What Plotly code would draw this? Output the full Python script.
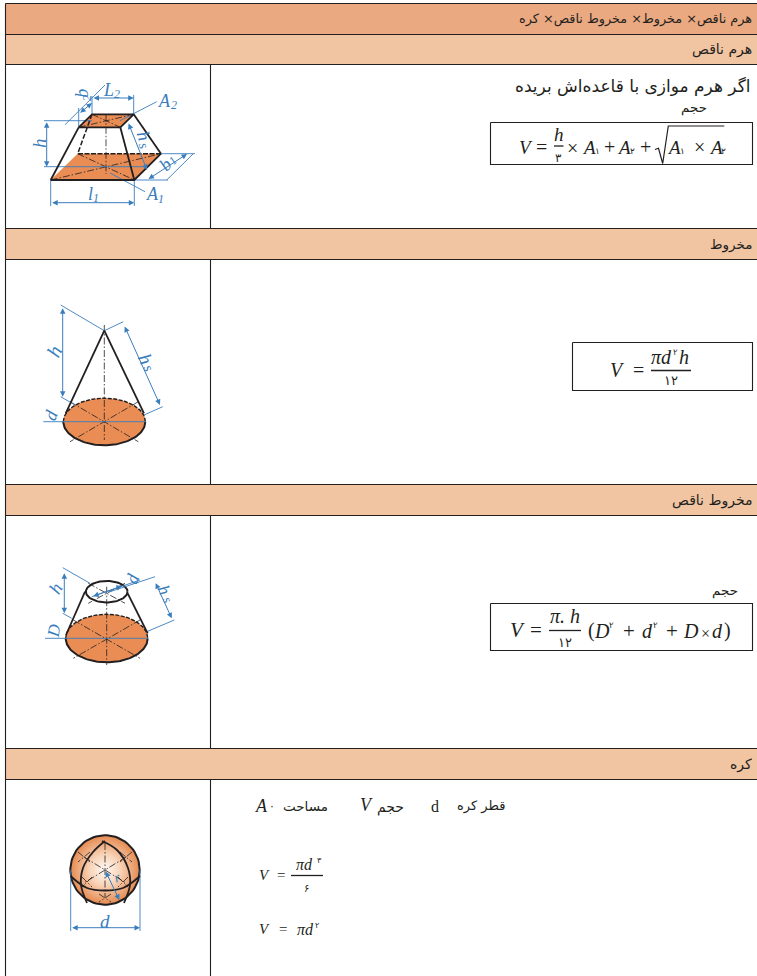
import numpy as np
import plotly.graph_objects as go

INK = "#231F20"
BLUE = "#3A7DBD"
ORANGE = "#E98D55"
HEAD_DARK = "#EBA981"
HEAD_LIGHT = "#F1C4A2"

FA = "DejaVu Sans"
SERIF = "Liberation Serif"
LABEL = "Liberation Sans Narrow"

# جدول
TABLE_LEFT = 5.5
TABLE_RIGHT = 757
TABLE_SPLIT = 210.5
ROW_LINES = [3.5, 34.5, 64.5, 228.5, 259.5, 484.5, 515.5, 748.5, 779.5]
BAND_TOPS = [3.5, 34.5, 228.5, 484.5, 748.5]
BAND_BOTTOMS = [34.5, 64.5, 259.5, 515.5, 779.5]
BAND_COLORS = [HEAD_DARK, HEAD_LIGHT, HEAD_LIGHT, HEAD_LIGHT, HEAD_LIGHT]
BAND_TITLES = ["هرم ناقص× مخروط× مخروط ناقص× کره", "هرم ناقص", "مخروط", "مخروط ناقص", "کره"]
BAND_SIZES = [12.8, 14, 13.5, 14, 14]
BAND_TEXT_Y = [19, 49, 244, 500, 764]
SPLIT_SPANS = [(64.5, 228.5), (259.5, 484.5), (515.5, 748.5), (779.5, 976)]

# متن فارسی (x راست، y، متن، اندازه)
FA_TEXT = [
    (752, 86, "اگر هرم موازی با قاعده‌اش بریده", 17),
    (708, 107, "حجم", 13.5),
    (739, 590, "حجم", 13.5),
    (506, 806, "قطر کره", 13),
    (405, 807, "حجم", 14),
    (329, 806, "مساحت", 13.5),
]

# فرمول‌ها (x وسط، y، متن، اندازه، ایتالیک)
MATH_TEXT = [
    # هرم ناقص
    (526, 147, "V", 19, True), (541.5, 147, "=", 20, False), (558.5, 134, "h", 19, True),
    (572.5, 148, "×", 20, False), (589, 147, "A", 19, True), (609, 147, "+", 20, False),
    (624, 147, "A", 19, True), (645, 147, "+", 20, False), (674, 147, "A", 19, True),
    (699.5, 147, "×", 20, False), (715.5, 147, "A", 19, True),
    # مخروط
    (617, 370, "V", 20, True), (638, 370, "=", 20, False), (661.5, 357, "πd", 20, True), (684, 357, "h", 20, True),
    # مخروط ناقص
    (517, 630, "V", 21, True), (536, 630, "=", 21, False), (565, 616, "π. h", 20, True),
    (591, 630, "(", 20, False), (602, 631, "D", 20, True), (629, 631, "+", 21, False), (647, 631, "d", 20, True),
    (672, 631, "+", 21, False), (691, 631, "D", 20, True), (705, 633, "×", 16, False),
    (717, 631, "d", 20, True), (727, 630, ")", 20, False),
    # کره
    (435, 806, "d", 16, False), (366, 805, "V", 18, True), (261, 806, "A", 18, True),
    (264, 875, "V", 15, True), (281, 875, "=", 15, False), (304.5, 864, "πd", 16, True),
    (264, 929, "V", 15, True), (283, 929, "=", 15, False), (305, 929, "πd", 16, True),
]

# رقم‌های فارسی کوچک
DIGIT_TEXT = [
    (558.5, 158, "۳", 12), (597, 151, "۱", 9), (632.5, 151, "۲", 9), (682.5, 151, "۱", 9), (723, 151, "۲", 9),
    (675.5, 352, "۲", 8.5), (671, 380, "۱۲", 13),
    (565, 642, "۱۲", 13), (611.5, 624.5, "۲", 8.5), (655, 624.5, "۲", 8.5),
    (272, 806, "۰", 11), (319.5, 860.5, "۳", 8), (306, 888, "۶", 10), (316.5, 925.5, "۲", 8),
]

FRACTION_BARS = [(554, 563.5, 146), (651, 691, 370.5), (549, 581, 630.5), (291, 323, 875.5)]
FORMULA_BOXES = [(490.5, 752.5, 122.5, 164.5), (572.5, 752.5, 342.5, 390.5), (490.5, 752.5, 603.5, 650.5)]
ROOT_X = [655, 658.5, 662.7, 668.3, 724.3]
ROOT_Y = [149.5, 148.3, 163.5, 126, 126]

# برچسب‌های آبی شکل‌ها (x، y، متن، اندازه، زاویه)
BLUE_LABELS = [
    (39, 143, "h", 19, -90), (81.7, 93, "b", 18, -90), (86.5, 98.5, "2", 12, -90),
    (108.3, 89.5, "L", 18, 0), (116.7, 93.5, "2", 12, 0), (164, 100.5, "A", 18, 0), (174, 105, "2", 12, 0),
    (143.5, 136, "h", 18, 72), (143.5, 145.5, "s", 14, 72), (165, 165, "b", 18, -45), (172.5, 161, "1", 12, -45),
    (90, 193.5, "l", 18, 0), (96, 198, "1", 12, 0), (152.7, 193.5, "A", 18, 0), (160.7, 198.5, "1", 12, 0),
    (53.5, 351.5, "h", 20, -65), (146, 359, "h", 19, 65), (149, 368, "s", 14, 65), (51, 415, "d", 18, -70),
    (55, 588.5, "h", 18, -60), (164.5, 590, "h", 17, 65), (168, 599, "s", 13, 65), (132.5, 579, "d", 18, -70),
    (53.5, 631, "D", 17, -80),
    (105, 921.5, "d", 19, 0), (117, 877, "r", 14, -20),
]

# هرم ناقص
BASE_X = [50.7, 134.3, 161, 77.7]
BASE_Y = [180, 180, 153.7, 153.7]
TOP_X = [78.7, 120.3, 133.7, 92]
TOP_Y = [127.3, 127.3, 114.3, 114.3]
# خطوط اندازه آبی با پیکان: x0, y0, x1, y1
FRUSTUM_ARROWS = [
    (46.7, 120.7, 46.7, 166.7), (92, 98, 133.7, 98), (128, 122, 147, 170), (50.7, 202.7, 134.3, 202.7),
    (78.7, 114, 92, 103), (147, 180, 187, 154),
    (62.7, 306.7, 62.7, 396.7), (124, 325, 160, 405),
    (64.3, 571.7, 64.3, 613.3), (155, 581.7, 171.7, 618.3), (91.7, 596.7, 122, 586),
    (70.7, 927.7, 140, 927.7), (105, 870, 119.3, 900),
]
# خطوط راهنمای آبی: x0, y0, x1, y1
BLUE_LINES = [
    (44, 120.7, 92, 120.7), (44, 166.7, 147, 166.7), (65, 124.7, 105, 85), (78.7, 127, 78.7, 108),
    (92, 114, 92, 96), (133.7, 114, 133.7, 95), (120, 120.7, 156.7, 101.7), (134, 180, 168, 180),
    (161, 153.7, 195, 153.7), (166.7, 180, 193, 154), (50.7, 180, 50.7, 206), (134.3, 180, 134.3, 206),
    (110, 173, 145, 191.7),
    (60.7, 305, 104.3, 330.7), (60.7, 396.7, 75, 405), (104.3, 330.7, 123.3, 321.7), (144, 415, 162.7, 406.7),
    (43.3, 421.7, 146, 421.7),
    (62.7, 567.7, 90, 583.3), (62.7, 613.3, 71.7, 618.3), (108.3, 592.3, 155, 576.7), (146.7, 631.7, 174.3, 620),
    (91.7, 596.7, 140, 580), (45, 638.3, 147.7, 638.3),
    (70.7, 870, 70.7, 931), (140, 870, 140, 931),
]
# خطوط محور نازک: x0, y0, x1, y1
AXIS_LINES = [
    (106, 114.3, 106, 174), (50.7, 180, 161, 153.7), (77.7, 153.7, 134.3, 180),
    (78.7, 127.3, 133.7, 114.3), (92, 114.3, 120.3, 127.3),
    (104.3, 325, 104.3, 440), (70, 401.7, 138.3, 441.7), (138.3, 401.7, 70, 441.7),
    (106.7, 586.7, 106.7, 665), (73.3, 620, 140, 658.3), (140, 620, 73.3, 658.3),
    (88.3, 583.3, 125, 603.3), (125, 583.3, 88.3, 603.3),
    (105, 843, 105, 897), (84, 857, 126, 883), (126, 857, 84, 883),
    # خطوط ضربدری روی کره
    (78, 852, 90, 862), (90, 852, 78, 862), (120, 852, 132, 862), (132, 852, 120, 862),
    (82, 877, 92, 887), (92, 877, 82, 887), (118, 877, 128, 887), (128, 877, 118, 887),
    (99, 894, 111, 902), (111, 894, 99, 902),
]
# خطوط ضخیم مخروط‌ها: x0, y0, x1, y1
SIDE_LINES = [
    (104.3, 330.7, 65.7, 413.3), (104.3, 330.7, 144, 413.3),
    (85, 591.7, 66, 635), (127.7, 593.3, 147.7, 633.3),
]
CONE_BASE = (104.3, 421.7, 41, 23.5)
FRUSTUM_BASE = (106.7, 638.3, 41, 24)
FRUSTUM_TOP = (106.7, 591.7, 20.8, 10.7)
SPHERE = (105, 870, 34.7)
SPHERE_ARC_X = [
    [70.5, 87, 105, 123, 140],
    [105, 93, 83, 81, 87],
    [102, 117, 128, 130, 124],
]
SPHERE_ARC_Y = [
    [876, 888, 890.5, 888, 876],
    [841, 852, 868, 885, 903],
    [841, 850, 868, 885, 903],
]

fig = go.Figure()


def path(xs, ys, color=INK, width=1.5, dash=None, shape="linear", fill=None):
    fig.add_scatter(
        x=list(xs), y=list(ys), mode="lines", showlegend=False, hoverinfo="skip",
        line=dict(color=color, width=width, dash=dash, shape=shape),
        fill="toself" if fill else None, fillcolor=fill,
    )


def arc(cx, cy, rx, ry, start, stop):
    """Точки дуги эллипса, углы в градусах."""
    t = np.radians(np.linspace(start, stop, 80))
    return cx + rx * np.cos(t), cy + ry * np.sin(t)


def disc(cx, cy, rx, ry):
    """Оранжевое основание: низ сплошной, верх штриховой."""
    path(*arc(cx, cy, rx, ry, 0, 360), color=ORANGE, width=0.1, fill=ORANGE)
    path(*arc(cx, cy, rx, ry, 0, 180), width=2)
    path(*arc(cx, cy, rx, ry, 180, 360), width=1.4, dash="4px,1.5px")


def label(x, y, text, size, font=FA, color=INK, angle=0, italic=False, anchor="center"):
    fig.add_annotation(
        x=x, y=y, text=text, showarrow=False, xanchor=anchor, yanchor="middle", textangle=angle,
        borderpad=0, font=dict(family=font, size=size, color=color, style="italic" if italic else "normal"),
    )


# полосы и рамка таблицы
for top, bottom, color in zip(BAND_TOPS, BAND_BOTTOMS, BAND_COLORS):
    fig.add_shape(type="rect", x0=TABLE_LEFT, x1=TABLE_RIGHT, y0=top, y1=bottom,
                  fillcolor=color, line_width=0, layer="below")
for y in ROW_LINES:
    path([TABLE_LEFT, TABLE_RIGHT], [y, y], width=1.1)
path([TABLE_LEFT, TABLE_LEFT], [ROW_LINES[0], 976], width=1.1)
for top, bottom in SPLIT_SPANS:
    path([TABLE_SPLIT, TABLE_SPLIT], [top, bottom], width=1.1)
for title, size, y in zip(BAND_TITLES, BAND_SIZES, BAND_TEXT_Y):
    label(752.5, y, title, size, anchor="right")

# рамки формул
for x0, x1, y0, y1 in FORMULA_BOXES:
    path([x0, x1, x1, x0, x0], [y0, y0, y1, y1, y0], width=1.1)
for x0, x1, y in FRACTION_BARS:
    path([x0, x1], [y, y], width=1.3)
path(ROOT_X, ROOT_Y, width=1.2)

# усечённая пирамида
path(BASE_X + BASE_X[:1], BASE_Y + BASE_Y[:1], color=ORANGE, width=0.1, fill=ORANGE)
path(TOP_X + TOP_X[:1], TOP_Y + TOP_Y[:1], color=ORANGE, width=0.1, fill=ORANGE)

# конус, усечённый конус, шар
disc(*CONE_BASE)
disc(*FRUSTUM_BASE)
path(*arc(*FRUSTUM_TOP, 0, 360), width=2, fill="white")
sphere_x, sphere_y = arc(SPHERE[0], SPHERE[1], SPHERE[2], SPHERE[2], 0, 360)
fig.add_scatter(
    x=list(sphere_x), y=list(sphere_y),
    mode="lines", showlegend=False, hoverinfo="skip", fill="toself",
    line=dict(color=INK, width=2),
    fillgradient=dict(type="radial", colorscale=[[0, "#FFFAF6"], [0.45, "#F8D3B7"], [1, "#E58A50"]]),
)

for x0, y0, x1, y1 in AXIS_LINES:
    path([x0, x1], [y0, y1], width=0.8, dash="7px,2px,1.5px,2px")
for x0, y0, x1, y1 in BLUE_LINES:
    path([x0, x1], [y0, y1], color=BLUE, width=0.9)
for x0, y0, x1, y1 in SIDE_LINES:
    path([x0, x1], [y0, y1], width=1.8)

# рёбра пирамиды
path([BASE_X[0], BASE_X[1], BASE_X[2]], [BASE_Y[0], BASE_Y[1], BASE_Y[2]], width=1.8)
path([BASE_X[2], BASE_X[3]], [BASE_Y[2], BASE_Y[3]], width=1.5, dash="5px,1.5px")
path([TOP_X[3], BASE_X[3]], [TOP_Y[3], BASE_Y[3]], width=1.5, dash="5px,2px")
path(TOP_X + TOP_X[:1], TOP_Y + TOP_Y[:1], width=1.8)
path([BASE_X[0], TOP_X[0]], [BASE_Y[0], TOP_Y[0]], width=1.8)
path([BASE_X[1], TOP_X[1]], [BASE_Y[1], TOP_Y[1]], width=1.8)
path([BASE_X[2], TOP_X[2]], [BASE_Y[2], TOP_Y[2]], width=1.8)

for arc_x, arc_y in zip(SPHERE_ARC_X, SPHERE_ARC_Y):
    path(arc_x, arc_y, width=1.8, shape="spline")

for x0, y0, x1, y1 in FRUSTUM_ARROWS:
    fig.add_annotation(
        x=x1, y=y1, ax=x0, ay=y0, xref="x", yref="y", axref="x", ayref="y", text="",
        showarrow=True, arrowside="end+start", arrowhead=2, arrowsize=1.1, arrowwidth=1, arrowcolor=BLUE,
    )

for x, y, text, size in FA_TEXT:
    label(x, y, text, size, anchor="right")
for x, y, text, size, italic in MATH_TEXT:
    label(x, y, text, size, font=SERIF, italic=italic)
for x, y, text, size in DIGIT_TEXT:
    label(x, y, text, size)
for x, y, text, size, angle in BLUE_LABELS:
    label(x, y, text, size, font=LABEL, color=BLUE, angle=angle, italic=True)

fig.update_xaxes(range=[0, 757], visible=False)
fig.update_yaxes(range=[976, 0], visible=False)
fig.update_layout(
    width=757, height=976, margin=dict(l=0, r=0, t=0, b=0),
    paper_bgcolor="white", plot_bgcolor="white", showlegend=False,
)
fig.write_html(
    "out.html", config={"displayModeBar": False},
    post_script="document.body.style.margin='0';document.body.style.overflow='hidden';",
)
